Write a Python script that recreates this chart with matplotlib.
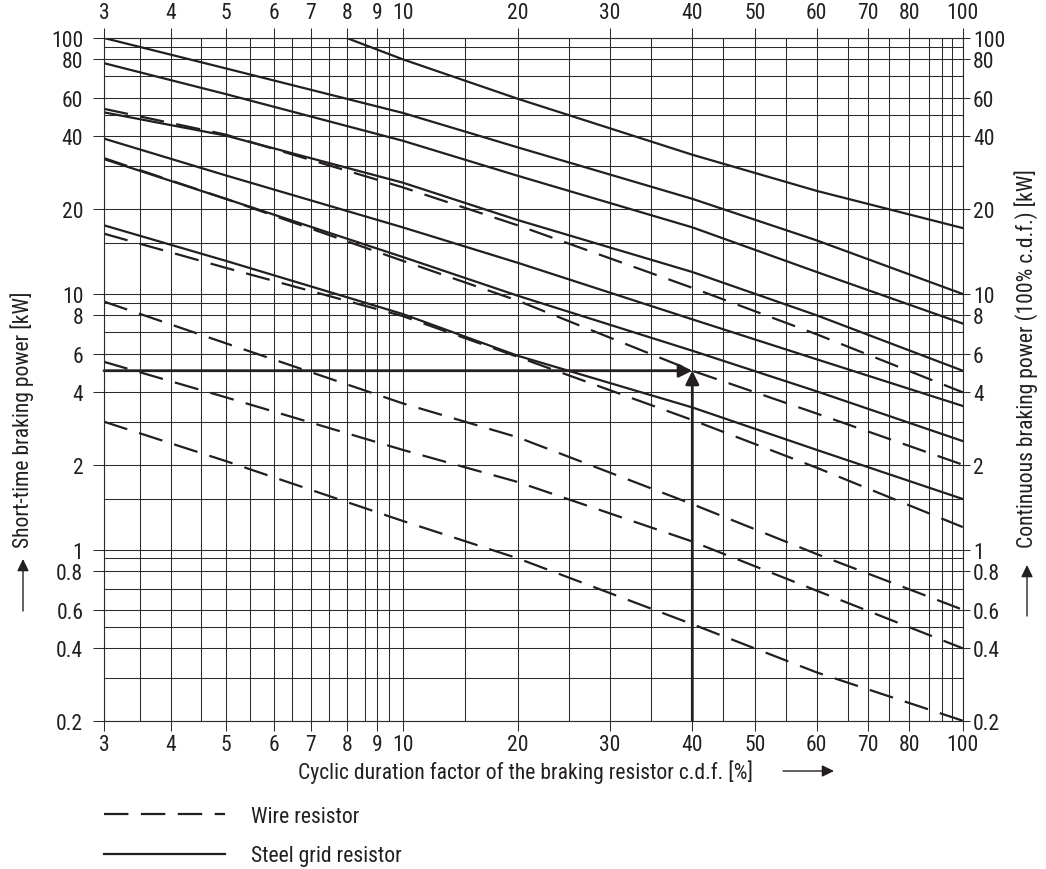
import numpy as np
import matplotlib
matplotlib.use("Agg")
import matplotlib.pyplot as plt
from matplotlib.ticker import FixedLocator, FixedFormatter, NullFormatter

# ---------------- data ----------------
cdf = [3, 5, 10, 20, 40, 60, 100]              # cyclic duration factor [%]
cdf_top = [8, 10, 20, 40, 60, 100]             # first steel curve starts at 8 %

steel_1 = [100, 80, 59.5, 33.4, 23.7, 17]      # on cdf_top
steel_2 = [100, 74.5, 51, 35.9, 22, 15.3, 10]
steel_3 = [77.6, 61.7, 38.3, 27.3, 17.1, 11.9, 7.5]
steel_4 = [51.3, 40.3, 25.6, 18.2, 11.9, 8.0, 5]
steel_5 = [39.1, 27.4, 17.1, 12.8, 7.75, 5.65, 3.5]
steel_6 = [32, 22, 13.4, 9.8, 6.13, 4.04, 2.5]
steel_7 = [17.4, 13.0, 8.1, 5.87, 3.45, 2.3, 1.5]

wire_1 = [53.3, 40.7, 24.5, 17.4, 10.5, 6.9, 4]
wire_2 = [32.3, 22, 13.0, 9.25, 5, 3.25, 2]
wire_3 = [16.2, 12.3, 7.95, 5.8, 3.05, 1.95, 1.2]
wire_4 = [9.15, 6.47, 3.59, 2.59, 1.44, 0.95, 0.6]
wire_5 = [5.5, 3.81, 2.3, 1.73, 1.07, 0.69, 0.4]
wire_6 = [3.0, 2.07, 1.26, 0.9, 0.515, 0.316, 0.2]

example_cdf = 40      # worked example: 40 % c.d.f.
example_power = 5     # -> 5 kW

x_major = [3, 4, 5, 6, 7, 8, 9, 10, 20, 30, 40, 50, 60, 70, 80, 100]
x_labels = ["3", "4", "5", "6", "7", "8", "9", "10", "20", "30", "40",
            "50", "60", "70", "80", "100"]
x_minor = [3.5, 4.5, 5.5, 6.5, 7.5, 8.5, 9.5, 15, 25, 35, 45, 55, 65, 75,
           85, 90, 95]
y_major = [0.2, 0.4, 0.6, 0.8, 1, 2, 4, 6, 8, 10, 20, 40, 60, 80, 100]
y_labels = ["0.2", "0.4", "0.6", "0.8", "1", "2", "4", "6", "8", "10",
            "20", "40", "60", "80", "100"]
y_minor = [0.3, 0.5, 0.7, 0.9, 1.5, 3, 5, 7, 9, 15, 30, 50, 70, 90]

# ---------------- nomogram scale calibration ----------------
# the printed chart paper is not a pure log grid: grid value -> position
x_scale_vals = [3, 3.5, 4, 4.5, 5, 5.5, 6, 6.5, 7, 7.5, 8, 8.5, 9, 9.5, 10,
                15, 20, 25, 30, 35, 40, 45, 50, 55, 60, 65, 70, 75, 80, 85,
                90, 95, 100]
x_scale_pos = [104, 140.3, 170.7, 201, 225.7, 249.7, 274, 292.3, 310.7,
               328.7, 346.7, 365.3, 377.3, 389.3, 402.7, 464.7, 517.7,
               568.7, 609.7, 651, 692.3, 723.3, 754.7, 785.7, 816.7, 847.7,
               868.3, 889, 909.3, 929.3, 941.7, 952.3, 962.7]
y_scale_vals = [0.2, 0.3, 0.4, 0.5, 0.6, 0.7, 0.8, 0.9, 1, 1.5, 2, 3, 4, 5,
                6, 7, 8, 9, 10, 15, 20, 30, 40, 50, 60, 70, 80, 90, 100]
y_scale_pos = [721.7, 678.7, 649.3, 628, 610.7, 589.7, 572.3, 559.3, 551,
               500, 465.7, 422.7, 393.3, 371.7, 354.7, 333.3, 316.3, 304,
               295, 243.7, 210, 166.7, 137.3, 115.7, 99, 77.3, 60.3, 47.7, 39]


def make_scale(vals, pos):
    lv = np.log10(np.asarray(vals, float))
    p = np.asarray(pos, float)
    fr = (p - p[0]) / (p[-1] - p[0])
    s0 = (fr[1] - fr[0]) / (lv[1] - lv[0])
    s1 = (fr[-1] - fr[-2]) / (lv[-1] - lv[-2])
    lv_e = np.r_[lv[0] - 30, lv, lv[-1] + 30]
    fr_e = np.r_[fr[0] - 30 * s0, fr, fr[-1] + 30 * s1]

    def fwd(v):
        v = np.asarray(v, float)
        l = np.log10(np.where(v > 0, v, 1e-300))
        return np.interp(l, lv_e, fr_e)

    def inv(f):
        f = np.asarray(f, float)
        return 10 ** np.interp(f, fr_e, lv_e)

    return fwd, inv


fx, ix = make_scale(x_scale_vals, x_scale_pos)
fy, iy = make_scale(y_scale_vals, y_scale_pos)

# ---------------- figure ----------------
W, H = 1046, 870
plt.rcParams["font.family"] = ["Liberation Sans Narrow", "Roboto Condensed",
                               "Liberation Sans", "DejaVu Sans"]
INK = "#231f20"
GRID = "#2b2b2b"
FS = 15.6

fig = plt.figure(figsize=(W / 100, H / 100), dpi=100)
L, R, T, B = 104, 962.7, 39, 721.7
ax = fig.add_axes([L / W, 1 - B / H, (R - L) / W, (B - T) / H])

ax.set_xscale("function", functions=(fx, ix))
ax.set_yscale("function", functions=(fy, iy))
ax.set_xlim(3, 100)
ax.set_ylim(0.2, 100)

ax.xaxis.set_major_locator(FixedLocator(x_major))
ax.xaxis.set_major_formatter(FixedFormatter(x_labels))
ax.xaxis.set_minor_locator(FixedLocator(x_minor))
ax.xaxis.set_minor_formatter(NullFormatter())
ax.yaxis.set_major_locator(FixedLocator(y_major))
ax.yaxis.set_major_formatter(FixedFormatter(y_labels))
ax.yaxis.set_minor_locator(FixedLocator(y_minor))
ax.yaxis.set_minor_formatter(NullFormatter())

ax.grid(True, which="both", color=GRID, lw=0.75)
ax.tick_params(which="minor", length=0)
ax.tick_params(axis="x", which="major", length=7.2, width=0.75, color=GRID,
               pad=2.5, labelsize=FS, labelcolor=INK)
ax.tick_params(axis="y", which="major", length=7.9, width=0.75, color=GRID,
               pad=7.0, labelsize=FS, labelcolor=INK)
for s in ax.spines.values():
    s.set_color(GRID)
    s.set_linewidth(0.75)

# top axis
ax_t = ax.twiny()
ax_t.set_xscale("function", functions=(fx, ix))
ax_t.set_xlim(3, 100)
ax_t.xaxis.set_major_locator(FixedLocator(x_major))
ax_t.xaxis.set_major_formatter(FixedFormatter(x_labels))
ax_t.xaxis.set_minor_locator(FixedLocator([]))
ax_t.tick_params(axis="x", which="major", length=7.2, width=0.75, color=GRID,
                 pad=3.5, labelsize=FS, labelcolor=INK)
# right axis
ax_r = ax.twinx()
ax_r.set_yscale("function", functions=(fy, iy))
ax_r.set_ylim(0.2, 100)
ax_r.yaxis.set_major_locator(FixedLocator(y_major))
ax_r.yaxis.set_major_formatter(FixedFormatter(y_labels))
ax_r.yaxis.set_minor_locator(FixedLocator([]))
ax_r.tick_params(axis="y", which="major", length=4.8, width=0.75, color=GRID,
                 pad=2.5, labelsize=FS, labelcolor=INK)
for a2 in (ax_t, ax_r):
    for s in a2.spines.values():
        s.set_color(GRID)
        s.set_linewidth(0.75)

# curves
LW = 1.6
DASH = (11.0, 5.6)
solid_handle = ax.plot(cdf_top, steel_1, color=INK, lw=LW, zorder=3)[0]
for ys in (steel_2, steel_3, steel_4, steel_5, steel_6, steel_7):
    ax.plot(cdf, ys, color=INK, lw=LW, zorder=3)
dash_handle = None
for yw in (wire_1, wire_2, wire_3, wire_4, wire_5, wire_6):
    ln = ax.plot(cdf, yw, color=INK, lw=LW, ls="--", dashes=DASH, zorder=3)[0]
    if dash_handle is None:
        dash_handle = ln

# worked example arrows
arrow_kw = dict(arrowstyle="-|>,head_length=0.4,head_width=0.2",
                lw=2.0, color=INK, mutation_scale=20, shrinkA=0, shrinkB=0)
ax.annotate("", xy=(example_cdf, example_power), xytext=(3, example_power),
            arrowprops=arrow_kw, zorder=4)
ax.annotate("", xy=(example_cdf, example_power), xytext=(example_cdf, 0.2),
            arrowprops=arrow_kw, zorder=4)

# axis labels
ax.set_xlabel("Cyclic duration factor of the braking resistor c.d.f. [%]",
              fontsize=FS, color=INK)
ax.xaxis.set_label_coords((526 - L) / (R - L), (B - 772) / (B - T))
ax.xaxis.label.set_verticalalignment("center")
ax.set_ylabel("Short-time braking power [kW]", fontsize=FS, color=INK)
ax.yaxis.set_label_coords((22 - L) / (R - L), (B - 420) / (B - T))
ax.yaxis.label.set_verticalalignment("center")
ax_r.set_ylabel("Continuous braking power (100% c.d.f.) [kW]", fontsize=FS,
                color=INK, rotation=90)
ax_r.yaxis.set_label_coords((1026 - L) / (R - L), (B - 359) / (B - T))
ax_r.yaxis.label.set_verticalalignment("center")

small_arrow = dict(arrowstyle="-|>,head_length=0.45,head_width=0.22",
                   lw=1.0, color=INK, mutation_scale=16, shrinkA=0, shrinkB=0)
for (x0, y0, x1, y1) in [(23, 612, 23, 560), (1027, 617, 1027, 566),
                         (783, 772, 834, 772)]:
    fig.add_artist(matplotlib.patches.FancyArrowPatch(
        (x0 / W, 1 - y0 / H), (x1 / W, 1 - y1 / H),
        transform=fig.transFigure, **small_arrow))

# legend
ax.legend([dash_handle, solid_handle], ["Wire resistor", "Steel grid resistor"],
          loc="upper left", bbox_to_anchor=(L / W, 1 - 807 / H),
          bbox_transform=fig.transFigure, frameon=False, fontsize=FS,
          handlelength=5.6, handletextpad=1.2, labelspacing=0.85,
          borderpad=0, borderaxespad=0, labelcolor=INK)

fig.savefig("out.png", dpi=100)
